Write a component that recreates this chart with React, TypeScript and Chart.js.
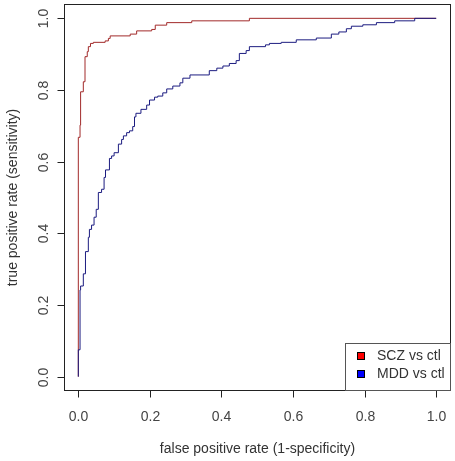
import React, { useEffect, useRef } from "react";
import { Chart, registerables } from "chart.js";

Chart.register(...registerables);

// SCZ vs ctl ROC points (false positive rate, true positive rate)
const sczFpr = [0, 0, 0.0048, 0.0064, 0.014, 0.0187, 0.025, 0.028, 0.034, 0.042, 0.075, 0.084, 0.089, 0.145, 0.163, 0.205, 0.215, 0.247, 0.317, 0.478, 1.0];
const sczTpr = [0, 0.668, 0.702, 0.795, 0.823, 0.893, 0.907, 0.921, 0.93, 0.933, 0.937, 0.944, 0.951, 0.956, 0.965, 0.969, 0.981, 0.988, 0.993, 1.0, 1.0];

// MDD vs ctl ROC points
const mddFpr = [0, 0, 0.0048, 0.0064, 0.014, 0.02, 0.028, 0.031, 0.037, 0.044, 0.05, 0.056, 0.065, 0.072, 0.076, 0.087, 0.093, 0.1, 0.112, 0.121, 0.126, 0.135, 0.143, 0.152, 0.157, 0.161, 0.175, 0.191, 0.199, 0.213, 0.222, 0.236, 0.247, 0.264, 0.284, 0.292, 0.312, 0.366, 0.387, 0.404, 0.422, 0.441, 0.45, 0.469, 0.478, 0.523, 0.534, 0.567, 0.609, 0.665, 0.707, 0.728, 0.749, 0.763, 0.795, 0.833, 0.884, 0.94, 1.0];
const mddTpr = [0, 0.075, 0.242, 0.253, 0.287, 0.349, 0.389, 0.411, 0.423, 0.445, 0.467, 0.514, 0.523, 0.556, 0.577, 0.609, 0.616, 0.625, 0.649, 0.662, 0.672, 0.681, 0.686, 0.698, 0.725, 0.735, 0.746, 0.758, 0.772, 0.78, 0.783, 0.792, 0.803, 0.811, 0.82, 0.833, 0.842, 0.854, 0.861, 0.867, 0.874, 0.882, 0.902, 0.91, 0.921, 0.926, 0.93, 0.933, 0.94, 0.945, 0.956, 0.962, 0.971, 0.978, 0.982, 0.988, 0.993, 1.0, 1.0];

const tickValues = [0, 0.2, 0.4, 0.6, 0.8, 1.0];
const tickLabels = ["0.0", "0.2", "0.4", "0.6", "0.8", "1.0"];
const seriesNames = ["SCZ vs ctl", "MDD vs ctl"];
const lineColors = ["#a22a2a", "#1c1c80"];
const swatchColors = ["#ff0000", "#0000ff"];
const xTitle = "false positive rate (1-specificity)";
const yTitle = "true positive rate (sensitivity)";

const FONT = '14px "Liberation Sans", Arial, sans-serif';

const axesPlugin = {
  id: "rAxes",
  afterDraw(chart: any) {
    const { ctx, chartArea, scales } = chart;
    const xs = scales.x;
    const ys = scales.y;
    const L = Math.round(chartArea.left) + 0.5;
    const T = Math.round(chartArea.top) + 0.5;
    const R = Math.round(chartArea.right) - 0.5;
    const B = Math.round(chartArea.bottom) - 0.5;
    ctx.save();
    ctx.strokeStyle = "#222";
    ctx.lineWidth = 1;
    ctx.strokeRect(L, T, R - L, B - T);

    ctx.font = FONT;
    ctx.fillStyle = "#444";
    // x ticks
    tickValues.forEach((v, i) => {
      const px = Math.round(xs.getPixelForValue(v)) + 0.5;
      ctx.beginPath();
      ctx.moveTo(px, B);
      ctx.lineTo(px, B + 7);
      ctx.stroke();
      ctx.textAlign = "center";
      ctx.textBaseline = "middle";
      ctx.fillText(tickLabels[i], px, 417);
    });
    // y ticks
    tickValues.forEach((v, i) => {
      const py = Math.round(ys.getPixelForValue(v)) + 0.5;
      ctx.beginPath();
      ctx.moveTo(L, py);
      ctx.lineTo(L - 7, py);
      ctx.stroke();
      ctx.save();
      ctx.translate(44, py);
      ctx.rotate(-Math.PI / 2);
      ctx.textAlign = "center";
      ctx.textBaseline = "middle";
      ctx.fillText(tickLabels[i], 0, 0);
      ctx.restore();
    });
    // titles
    ctx.fillStyle = "#333";
    ctx.textAlign = "center";
    ctx.textBaseline = "middle";
    ctx.fillText(xTitle, (L + R) / 2, 449);
    ctx.save();
    ctx.translate(13, (T + B) / 2);
    ctx.rotate(-Math.PI / 2);
    ctx.fillText(yTitle, 0, 0);
    ctx.restore();

    // legend
    const lx = 345.5;
    const ly = 343.5;
    ctx.strokeStyle = "#555";
    ctx.strokeRect(lx, ly, R - lx, B - ly);
    seriesNames.forEach((name, i) => {
      const cy = 356 + i * 18;
      ctx.fillStyle = swatchColors[i];
      ctx.fillRect(357, cy - 4, 8, 8);
      ctx.strokeStyle = "#000";
      ctx.strokeRect(357.5, cy - 3.5, 7, 7);
      ctx.fillStyle = "#333";
      ctx.textAlign = "left";
      ctx.textBaseline = "middle";
      ctx.fillText(name, 377, cy + 0.5);
    });
    ctx.restore();
  },
};

export default function App() {
  const ref = useRef<HTMLCanvasElement>(null);
  useEffect(() => {
    if (!ref.current) return;
    const chart = new Chart(ref.current, {
      type: "line",
      data: {
        datasets: [
          {
            label: seriesNames[0],
            data: sczFpr.map((x, i) => ({ x, y: sczTpr[i] })),
            borderColor: lineColors[0],
            borderWidth: 1,
            pointRadius: 0,
            stepped: "before",
            fill: false,
            order: 1,
          },
          {
            label: seriesNames[1],
            data: mddFpr.map((x, i) => ({ x, y: mddTpr[i] })),
            borderColor: lineColors[1],
            borderWidth: 1,
            pointRadius: 0,
            stepped: "before",
            fill: false,
            order: 0,
          },
        ],
      },
      options: {
        animation: false,
        responsive: false,
        layout: { padding: { left: 64, top: 4, right: 4.5, bottom: 70 } },
        plugins: { legend: { display: false }, tooltip: { enabled: false } },
        scales: {
          x: { type: "linear", min: -0.04, max: 1.04, display: false },
          y: { type: "linear", min: -0.04, max: 1.04, display: false },
        },
      },
      plugins: [axesPlugin],
    });
    return () => chart.destroy();
  }, []);
  return (
    <div style={{ position: "fixed", left: 0, top: 0, width: 455, height: 461, background: "#fff" }}>
      <canvas ref={ref} width={455} height={461} />
    </div>
  );
}
